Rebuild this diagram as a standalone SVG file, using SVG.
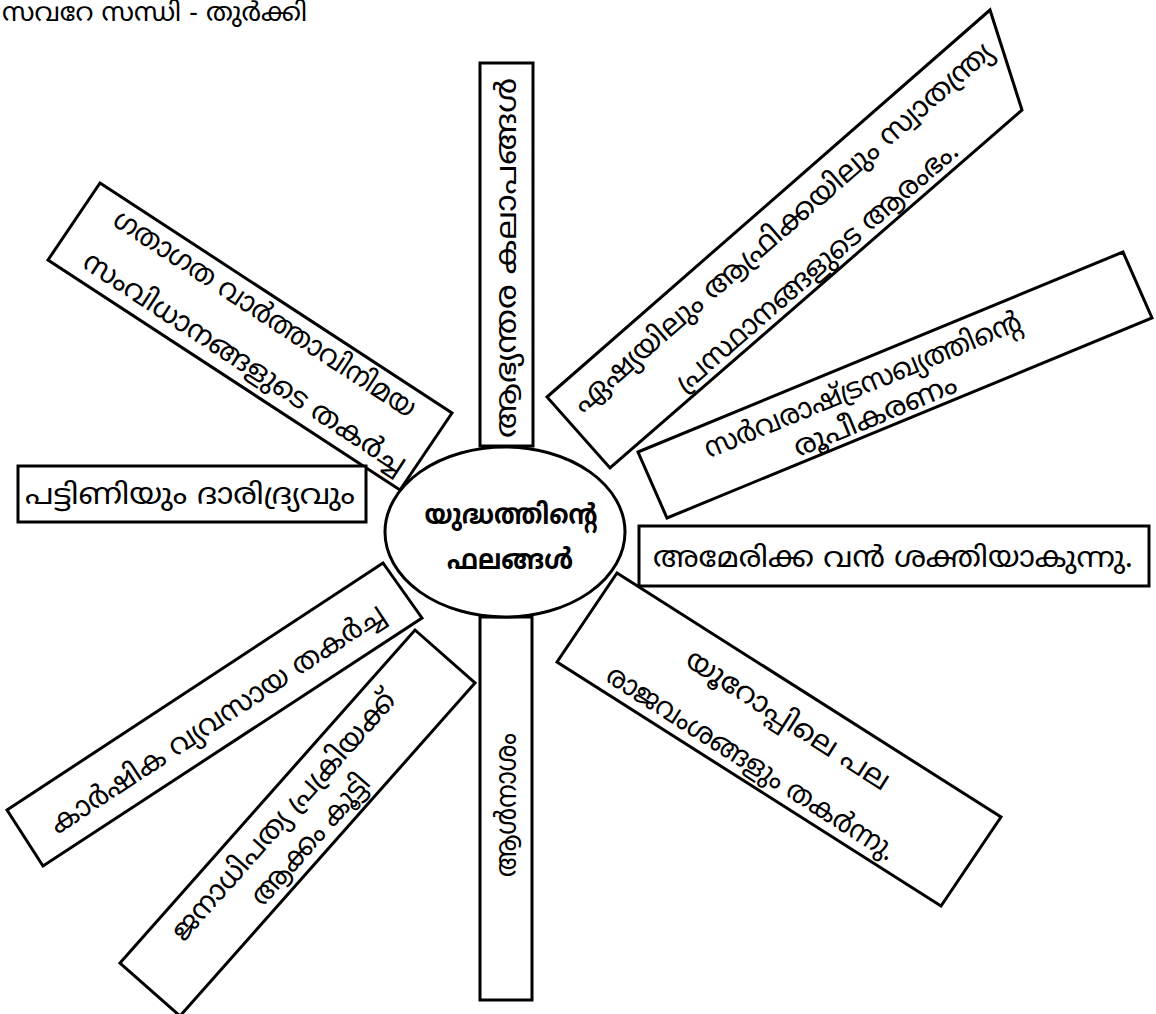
<svg xmlns="http://www.w3.org/2000/svg" width="1156" height="1014" viewBox="0 0 1156 1014">
<style>
.box{fill:#fff;stroke:#000;stroke-width:3;stroke-linejoin:miter}
.t{font-family:"Noto Sans Malayalam","Noto Serif Malayalam","Noto Sans","DejaVu Sans",sans-serif;font-size:29px;fill:#000;text-anchor:middle}
.b{font-weight:bold;font-size:28px}
</style>
<rect width="1156" height="1014" fill="#fff"/>
<g id="connectors"></g>
<g id="title"><text class="t" x="2" y="21" style="text-anchor:start;font-size:26px" textLength="305" lengthAdjust="spacingAndGlyphs">സവറേ സന്ധി - തുർക്കി</text></g>
<g id="n-top">
<rect class="box" x="480" y="63" width="53" height="383"/>
<text class="t" transform="translate(506,258) rotate(-90)" x="0" y="10" textLength="360" lengthAdjust="spacingAndGlyphs">ആഭ്യന്തര കലാപങ്ങൾ</text>
</g>
<g id="n-bottom">
<rect class="box" x="480" y="617" width="52" height="383"/>
<text class="t" transform="translate(506,805) rotate(-90)" x="0" y="10" textLength="144" lengthAdjust="spacingAndGlyphs">ആൾനാശം</text>
</g>
<g id="n-transport">
<polygon class="box" points="100,183 452,413 400,490 48,260"/>
<g transform="translate(250,336.5) rotate(33.2)">
<text class="t" x="0" y="-18" textLength="355" lengthAdjust="spacingAndGlyphs">ഗതാഗത വാർത്താവിനിമയ</text>
<text class="t" x="10" y="34" textLength="380" lengthAdjust="spacingAndGlyphs">സംവിധാനങ്ങളുടെ തകർച്ച</text>
</g>
</g>
<g id="n-asia">
<polygon class="box" points="547,397 990,10 1022,110 610,468"/>
<g transform="translate(792,246) rotate(-41.1)">
<text class="t" x="5" y="-11" textLength="546" lengthAdjust="spacingAndGlyphs">ഏഷ്യയിലും ആഫ്രിക്കയിലും സ്വാതന്ത്ര്യ</text>
<text class="t" x="5" y="41" textLength="365" lengthAdjust="spacingAndGlyphs">പ്രസ്ഥാനങ്ങളുടെ ആരംഭം.</text>
</g>
</g>
<g id="n-league">
<polygon class="box" points="638,452 1123,252 1152,318 667,518"/>
<g transform="translate(895,385) rotate(-22.4)">
<text class="t" x="-30" y="-3" textLength="340" lengthAdjust="spacingAndGlyphs">സർവരാഷ്ട്രസഖ്യത്തിന്റെ</text>
<text class="t" x="-30" y="30" textLength="174" lengthAdjust="spacingAndGlyphs">രൂപീകരണം</text>
</g>
</g>
<g id="n-america">
<rect class="box" x="639" y="526" width="510" height="60"/>
<text class="t" x="893" y="567" textLength="480" lengthAdjust="spacingAndGlyphs">അമേരിക്ക വൻ ശക്തിയാകുന്നു.</text>
</g>
<g id="n-europe">
<polygon class="box" points="617,573 1001,817 941,906 557,662"/>
<g transform="translate(779,739.5) rotate(32.5)">
<text class="t" x="-3" y="-12" textLength="236" lengthAdjust="spacingAndGlyphs">യൂറോപ്പിലെ പല</text>
<text class="t" x="-11" y="44" textLength="337" lengthAdjust="spacingAndGlyphs">രാജവംശങ്ങളും തകർന്നു.</text>
</g>
</g>
<g id="n-democracy">
<polygon class="box" points="120,963 415,630 475,683 180,1016"/>
<g transform="translate(297.5,823) rotate(-48.5)">
<text class="t" x="-4" y="-6" textLength="322" lengthAdjust="spacingAndGlyphs">ജനാധിപത്യ പ്രക്രിയക്ക്</text>
<text class="t" x="-4" y="30" textLength="164" lengthAdjust="spacingAndGlyphs">ആക്കം കൂട്ടി</text>
</g>
</g>
<g id="n-agri">
<polygon class="box" points="7,810 383,563 422,618 43,866"/>
<text class="t" transform="translate(214,714) rotate(-33.3)" x="0" y="15" textLength="394" lengthAdjust="spacingAndGlyphs">കാർഷിക വ്യവസായ തകർച്ച</text>
</g>
<g id="n-poverty">
<rect class="box" x="18" y="466" width="348" height="56"/>
<text class="t" x="190" y="504" textLength="330" lengthAdjust="spacingAndGlyphs">പട്ടിണിയും ദാരിദ്ര്യവും</text>
</g>
<g id="n-center">
<ellipse class="box" cx="505" cy="532" rx="120" ry="85"/>
<text class="t b" x="511" y="524" textLength="173" lengthAdjust="spacingAndGlyphs">യുദ്ധത്തിന്റെ</text>
<text class="t b" x="510" y="569" textLength="126" lengthAdjust="spacingAndGlyphs">ഫലങ്ങൾ</text>
</g>
</svg>
